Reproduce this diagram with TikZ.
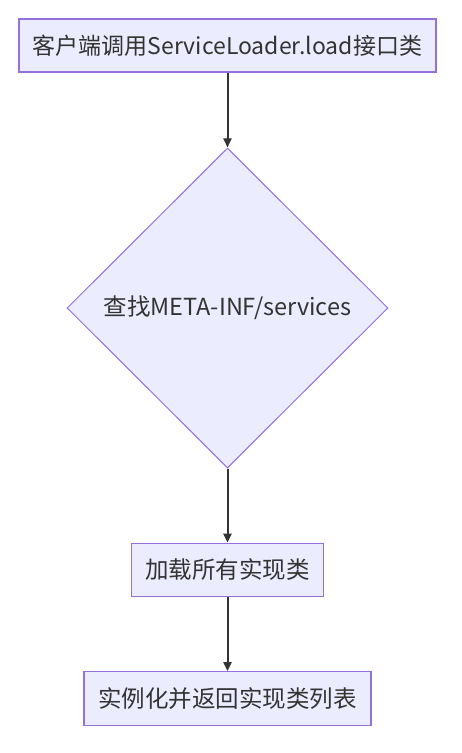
\documentclass[tikz,border=0pt]{standalone}
\usepackage{fontspec}
\setmainfont{Noto Sans CJK SC}
\usetikzlibrary{shapes.geometric,arrows.meta}
\definecolor{nodefill}{HTML}{ECECFF}
\definecolor{nodeline}{HTML}{9370DB}
\definecolor{ink}{HTML}{333333}
\tikzset{
  x=1pt,y=1pt,
  procbox/.style={draw=nodeline,fill=nodefill,line width=1.2pt,rectangle,inner sep=0pt,text=ink,font=\fontsize{23.5}{26}\selectfont},
  decbox/.style={draw=nodeline,fill=nodefill,line width=1pt,diamond,inner sep=0pt,text=ink,font=\fontsize{23.5}{26}\selectfont},
  flow/.style={draw=ink,line width=2pt,-{Triangle[length=9pt,width=8pt]}}
}
\begin{document}
\begin{tikzpicture}
\useasboundingbox[fill=white] (0,0) rectangle (462,-753);
\node[procbox,minimum width=417pt,minimum height=53pt,font=\fontsize{23}{26}\selectfont] (a) at (227.5,-45.5) {客户端调用ServiceLoader.load接口类};
\node[decbox,minimum width=321pt,minimum height=320pt] (b) at (227.5,-308) {查找META-INF/services};
\node[procbox,minimum width=191.5pt,minimum height=53.5pt] (c) at (227.5,-570) {加载所有实现类};
\node[procbox,minimum width=287pt,minimum height=54pt] (d) at (227.5,-698.7) {实例化并返回实现类列表};
\draw[flow] (a) -- (b);
\draw[flow] (b) -- (c);
\draw[flow] (c) -- (d);
\end{tikzpicture}
\end{document}
